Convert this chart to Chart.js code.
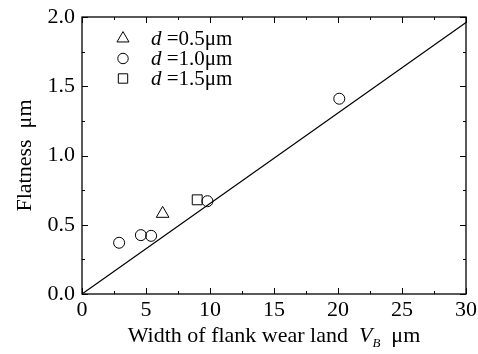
<!DOCTYPE html>
<html>
<head>
<meta charset="utf-8">
<script src="https://cdn.jsdelivr.net/npm/chart.js@4/dist/chart.umd.min.js"></script>
<style>
  html, body { margin: 0; padding: 0; background: #fff; }
  #wrap { width: 478px; height: 354px; }
</style>
</head>
<body>
<div id="wrap"><canvas id="c" width="478" height="354"></canvas></div>
<script>
// Flank wear land width (µm) vs. flatness (µm) for three depths of cut
const wear05 = [6.3];
const flat05 = [0.58];
const wear10 = [2.9, 4.6, 5.4, 9.8, 20.1];
const flat10 = [0.37, 0.425, 0.42, 0.67, 1.41];
const wear15 = [9.0];
const flat15 = [0.68];

// fitted trend line
const fitWear = [0, 30];
const fitFlat = [0, 1.96];

const seriesNames = ['=0.5μm', '=1.0μm', '=1.5μm'];
const seriesStyles = ['triangle', 'circle', 'rect'];

const xTickValues = [0, 5, 10, 15, 20, 25, 30];
const yTickValues = [0.0, 0.5, 1.0, 1.5, 2.0];

const xTitleParts = ['Width of flank wear land  ', 'V', 'B', '  μm'];
const yTitle = 'Flatness  μm';

const FONT = "'Liberation Serif', 'Times New Roman', serif";

function pts(xs, ys) { return xs.map((x, i) => ({ x: x, y: ys[i] })); }

const markerRadius = { triangle: 7.3, circle: 5.5, rect: 7 };

function drawMarker(ctx, style, x, y, r) {
  ctx.beginPath();
  if (style === 'circle') {
    ctx.arc(x, y, r, 0, Math.PI * 2);
  } else if (style === 'rect') {
    const s = r * Math.SQRT1_2;
    ctx.rect(x - s, y - s, 2 * s, 2 * s);
  } else {
    for (let k = 0; k < 3; k++) {
      const a = k * 2 * Math.PI / 3;
      const px = x + Math.sin(a) * r, py = y - Math.cos(a) * r;
      k ? ctx.lineTo(px, py) : ctx.moveTo(px, py);
    }
    ctx.closePath();
  }
  ctx.stroke();
}

// frame, inward ticks, legend and rich x-axis title
const decorations = {
  id: 'decorations',
  afterDraw(chart) {
    const ctx = chart.ctx;
    const xs = chart.scales.x, ys = chart.scales.y;
    const a = chart.chartArea;
    ctx.save();
    ctx.strokeStyle = '#000';
    ctx.lineWidth = 1.3;
    ctx.strokeRect(a.left, a.top, a.right - a.left, a.bottom - a.top);

    ctx.lineWidth = 1;
    ctx.beginPath();
    for (let v = 0; v <= 30.001; v += 2.5) {
      const px = Math.round(xs.getPixelForValue(v)) + 0.5;
      const len = (Math.abs(v % 5) < 1e-6) ? 6 : 3;
      ctx.moveTo(px, a.bottom); ctx.lineTo(px, a.bottom - len);
      ctx.moveTo(px, a.top); ctx.lineTo(px, a.top + len);
    }
    for (let v = 0; v <= 2.0001; v += 0.25) {
      const py = Math.round(ys.getPixelForValue(v)) + 0.5;
      const len = (Math.abs((v * 2) % 1) < 1e-6) ? 6 : 3;
      ctx.moveTo(a.left, py); ctx.lineTo(a.left + len, py);
      ctx.moveTo(a.right, py); ctx.lineTo(a.right - len, py);
    }
    ctx.stroke();

    // legend
    const rowY = [38.5, 58.5, 78.5];
    ctx.textBaseline = 'middle';
    ctx.textAlign = 'left';
    seriesNames.forEach((name, i) => {
      ctx.strokeStyle = '#000';
      ctx.lineWidth = 1;
      drawMarker(ctx, seriesStyles[i], 123, rowY[i], markerRadius[seriesStyles[i]] * 0.95);
      ctx.fillStyle = '#000';
      ctx.font = 'italic 21px ' + FONT;
      ctx.fillText('d', 151, rowY[i] + 1);
      const w = ctx.measureText('d ').width;
      ctx.font = '21px ' + FONT;
      ctx.fillText(name, 151 + w, rowY[i] + 1);
    });

    // x-axis title with italic V and subscript B
    const base = 342;
    const fonts = ['22px ' + FONT, 'italic 22px ' + FONT, 'italic 13px ' + FONT, '22px ' + FONT];
    const dy = [0, 0, 5, 0];
    let total = 0;
    const widths = xTitleParts.map((t, i) => { ctx.font = fonts[i]; const w = ctx.measureText(t).width; total += w; return w; });
    let x = (a.left + a.right) / 2 - total / 2;
    ctx.textBaseline = 'alphabetic';
    ctx.fillStyle = '#000';
    xTitleParts.forEach((t, i) => {
      ctx.font = fonts[i];
      ctx.fillText(t, x, base + dy[i]);
      x += widths[i];
    });
    ctx.restore();
  }
};

const ctxEl = document.getElementById('c');
new Chart(ctxEl, {
  type: 'scatter',
  data: {
    datasets: [
      {
        type: 'line',
        data: pts(fitWear, fitFlat),
        borderColor: '#000',
        borderWidth: 1.2,
        pointRadius: 0,
        fill: false,
        order: 2
      },
      {
        data: pts(wear05, flat05),
        pointStyle: 'triangle',
        pointRadius: markerRadius.triangle,
        backgroundColor: 'rgba(0,0,0,0)',
        borderColor: '#000',
        borderWidth: 1,
        order: 1
      },
      {
        data: pts(wear10, flat10),
        pointStyle: 'circle',
        pointRadius: markerRadius.circle,
        backgroundColor: 'rgba(0,0,0,0)',
        borderColor: '#000',
        borderWidth: 1,
        order: 1
      },
      {
        data: pts(wear15, flat15),
        pointStyle: 'rect',
        pointRadius: markerRadius.rect,
        backgroundColor: 'rgba(0,0,0,0)',
        borderColor: '#000',
        borderWidth: 1,
        order: 1
      }
    ]
  },
  options: {
    responsive: false,
    animation: false,
    devicePixelRatio: 1,
    layout: { padding: { left: 0, right: 12, top: 17, bottom: 0 } },
    plugins: { legend: { display: false }, tooltip: { enabled: false } },
    scales: {
      x: {
        type: 'linear',
        min: 0, max: 30,
        afterBuildTicks(s) { s.ticks = xTickValues.map(v => ({ value: v })); },
        afterFit(s) { s.height = 60; s.paddingLeft = 0; s.paddingRight = 0; },
        grid: { display: false, drawTicks: false },
        border: { display: false },
        ticks: {
          color: '#000',
          padding: 3,
          font: { family: FONT, size: 22 },
          callback: v => String(v)
        }
      },
      y: {
        type: 'linear',
        min: 0, max: 2,
        afterBuildTicks(s) { s.ticks = yTickValues.map(v => ({ value: v })); },
        afterFit(s) { s.width = 82; s.paddingTop = 0; s.paddingBottom = 0; },
        grid: { display: false, drawTicks: false },
        border: { display: false },
        title: {
          display: true,
          text: yTitle,
          color: '#000',
          font: { family: FONT, size: 22 },
          padding: { top: 12, bottom: 0 }
        },
        ticks: {
          color: '#000',
          padding: 7,
          font: { family: FONT, size: 22 },
          callback: v => v.toFixed(1)
        }
      }
    }
  },
  plugins: [decorations]
});
</script>
</body>
</html>
